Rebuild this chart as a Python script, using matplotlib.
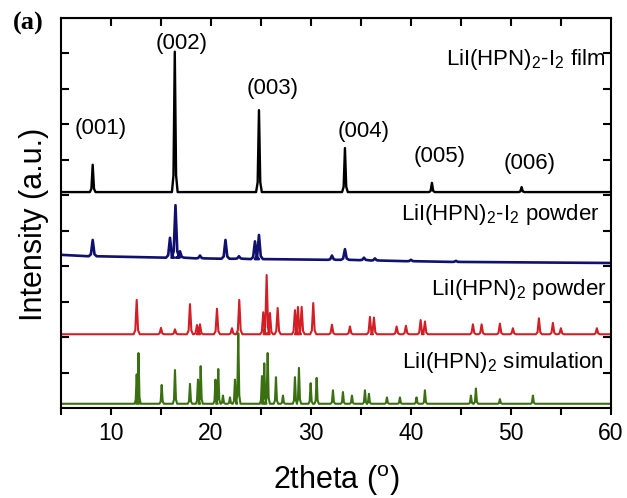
import numpy as np
import matplotlib.pyplot as plt

plt.rcParams['font.family'] = ['Liberation Sans', 'DejaVu Sans']
plt.rcParams['mathtext.fontset'] = 'custom'
plt.rcParams['mathtext.rm'] = 'Liberation Sans'
plt.rcParams['mathtext.it'] = 'Liberation Sans'

# film LiI(HPN)2-I2 : (00l) reflections
film_base = 6.09
film_pos = [8.17, 16.38, 24.8, 33.4, 42.1, 51.07]
film_top = [6.86, 10.05, 8.4, 7.33, 6.35, 6.23]
film_hkl = ['(001)', '(002)', '(003)', '(004)', '(005)', '(006)']
film_lbl_x = [9.0, 17.1, 26.2, 35.3, 42.9, 51.9]
film_lbl_y = [7.88, 10.28, 9.0, 7.8, 7.08, 6.9]

# LiI(HPN)2-I2 powder
blue_ends = [4.32, 4.09]
blue_pos = [8.17, 15.9, 16.45, 16.9, 18.9, 21.45, 22.8, 24.4, 24.8, 32.1, 33.4, 35.3, 36.4, 40.0, 44.5]
blue_top = [4.74, 4.8, 5.72, 4.42, 4.3, 4.74, 4.28, 4.7, 4.88, 4.3, 4.48, 4.24, 4.22, 4.18, 4.15]
blue_foot = [4.28, 4.24, 4.24, 4.24, 4.22, 4.21, 4.21, 4.2, 4.2, 4.18, 4.18, 4.17, 4.16, 4.14, 4.12]

# LiI(HPN)2 powder
red_base = 2.08
red_pos = [12.57, 15.0, 16.4, 17.9, 18.6, 18.9, 20.6, 22.1, 22.83, 25.23, 25.57, 25.9, 26.67,
           28.4, 28.7, 29.07, 30.23, 32.1, 33.9, 35.9, 36.3, 38.57, 39.5, 40.97, 41.4,
           46.2, 47.07, 48.9, 50.2, 52.8, 54.2, 55.0, 58.6]
red_top = [3.05, 2.26, 2.22, 2.93, 2.34, 2.36, 2.8, 2.25, 3.05, 2.7, 3.75, 2.68, 2.82,
           2.76, 2.85, 2.85, 2.96, 2.35, 2.3, 2.57, 2.55, 2.3, 2.32, 2.48, 2.44,
           2.36, 2.36, 2.38, 2.25, 2.53, 2.4, 2.25, 2.25]

# LiI(HPN)2 simulation
green_base = 0.12
green_pos = [12.57, 12.75, 15.07, 16.4, 17.9, 18.7, 18.97, 20.45, 20.73, 21.2, 21.9, 22.4, 22.73,
             25.1, 25.33, 25.67, 26.5, 27.2, 28.4, 28.8, 29.97, 30.57, 32.2, 33.2, 34.1,
             35.4, 35.8, 37.6, 38.9, 40.56, 41.4, 46.0, 46.5, 48.9, 52.2]
green_top = [0.95, 1.55, 0.65, 1.07, 0.68, 0.8, 1.18, 0.8, 1.1, 0.35, 0.3, 0.8, 2.11,
             0.9, 1.26, 1.55, 0.87, 0.35, 0.87, 1.13, 0.7, 0.85, 0.5, 0.45, 0.35,
             0.5, 0.4, 0.3, 0.3, 0.3, 0.5, 0.35, 0.55, 0.25, 0.35]

labels = [r'LiI(HPN)$_2$-I$_2$ film', r'LiI(HPN)$_2$-I$_2$ powder',
          r'LiI(HPN)$_2$ powder', r'LiI(HPN)$_2$ simulation']
label_x = [59.4, 58.9, 59.6, 59.3]
label_y = [9.66, 5.3, 3.2, 1.13]


def trace(pos, top, foot, x0, x1, y0, y1, hw=0.13):
    xs, ys = [x0], [y0]
    for p, t, f in zip(pos, top, foot):
        xs += [p - hw * 2.2, p - hw, p, p + hw, p + hw * 2.2]
        ys += [f, f + 0.12 * (t - f), t, f + 0.12 * (t - f), f]
    xs.append(x1)
    ys.append(y1)
    return xs, ys


fig = plt.figure(figsize=(6.27, 4.98), dpi=100)
ax = fig.add_axes([0.0973, 0.1807, 0.877, 0.7832])

x, y = trace(film_pos, film_top, [film_base] * len(film_pos), 5, 60, film_base, film_base)
ax.plot(x, y, color='black', lw=1.7)
x, y = trace(blue_pos, blue_top, blue_foot, 5, 60, blue_ends[0], blue_ends[1], hw=0.18)
ax.plot(x, y, color='#10106e', lw=1.9)
x, y = trace(red_pos, red_top, [red_base] * len(red_pos), 5, 60, red_base, red_base, hw=0.14)
ax.plot(x, y, color='#d21f26', lw=1.5)
x, y = trace(green_pos, green_top, [green_base] * len(green_pos), 5, 60, green_base, green_base, hw=0.1)
ax.plot(x, y, color='#3b7012', lw=1.5)

for t, lx, ly in zip(film_hkl, film_lbl_x, film_lbl_y):
    ax.text(lx, ly, t, ha='center', va='center', fontsize=16)

for t, lx, ly in zip(labels, label_x, label_y):
    ax.text(lx, ly, t, ha='right', va='baseline', fontsize=16)

ax.set_xlim(5, 60)
ax.set_ylim(0, 11)
ax.set_xticks([10, 20, 30, 40, 50, 60])
ax.set_xticks([5, 15, 25, 35, 45, 55], minor=True)
ax.set_yticks(range(1, 11))
ax.tick_params(axis='x', which='both', direction='out', length=5, width=1.5,
               labelsize=16.5, pad=5)
ax.tick_params(axis='y', direction='in', length=6, width=1.5, left=True, right=True,
               labelleft=False)
for s in ax.spines.values():
    s.set_linewidth(1.5)

top = ax.secondary_xaxis('top')
top.set_xticks([10, 15, 20, 25, 30, 35, 40, 45, 50, 55])
top.tick_params(direction='in', length=6, width=1.5, labeltop=False)

ax.set_xlabel(r'2theta ($^{\rm o}$)', fontsize=22, labelpad=13)
ax.set_ylabel('Intensity (a.u.)', fontsize=22, labelpad=9)
ax.yaxis.label.set_y(0.47)

fig.text(0.02, 0.952, '(a)', fontsize=19, fontweight='bold', family='Liberation Serif',
         va='center')

fig.savefig('out.png', dpi=100)
